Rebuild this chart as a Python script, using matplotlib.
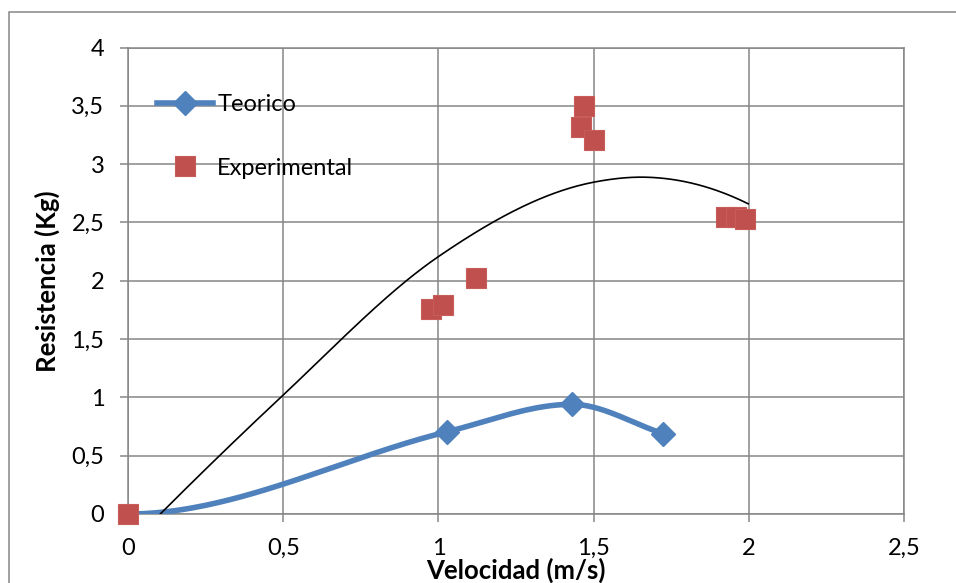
import numpy as np
import matplotlib
matplotlib.use("Agg")
import matplotlib.pyplot as plt
from matplotlib.patches import Rectangle
from matplotlib.ticker import FuncFormatter

# values
teo_x = [0, 1.028, 1.432, 1.723]
teo_y = [0, 0.705, 0.94, 0.69]

exp_x = [0, 0.975, 1.015, 1.122, 1.459, 1.470, 1.501, 1.928, 1.959, 1.988]
exp_y = [0, 1.76, 1.79, 2.02, 3.32, 3.50, 3.21, 2.55, 2.55, 2.53]

# black fit curve
fit_x = [0.104, 0.492, 1.0, 1.5, 1.666, 1.998]
fit_y = [0.0, 1.0, 2.207, 2.845, 2.888, 2.66]

x_ticks = [0, 0.5, 1, 1.5, 2, 2.5]
y_ticks = [0, 0.5, 1, 1.5, 2, 2.5, 3, 3.5, 4]

BLUE = "#4F81BD"
RED = "#C0504D"
GRID = "#868686"

plt.rcParams["font.family"] = ["Lato", "DejaVu Sans"]


def smooth(xs, ys, mode="central", flat_start=False, n=80):
    # hermite spline through the points (excel style smoothed line)
    xs = np.asarray(xs, float)
    ys = np.asarray(ys, float)
    h = np.diff(xs)
    d = np.diff(ys) / h
    m = np.zeros(len(xs))
    if mode == "central":
        m[1:-1] = (ys[2:] - ys[:-2]) / (xs[2:] - xs[:-2])
        m[0] = d[0]
        m[-1] = d[-1]
    else:
        # three point slopes for uneven spacing
        m[1:-1] = (h[1:] * d[:-1] + h[:-1] * d[1:]) / (h[:-1] + h[1:])
        m[0] = ((2 * h[0] + h[1]) * d[0] - h[0] * d[1]) / (h[0] + h[1])
        m[-1] = ((2 * h[-1] + h[-2]) * d[-1] - h[-1] * d[-2]) / (h[-1] + h[-2])
    if flat_start:
        m[0] = 0.0
    px, py = [], []
    t = np.linspace(0, 1, n)
    h00 = 2 * t**3 - 3 * t**2 + 1
    h10 = t**3 - 2 * t**2 + t
    h01 = -2 * t**3 + 3 * t**2
    h11 = t**3 - t**2
    for i in range(len(xs) - 1):
        px.extend(xs[i] + t * h[i])
        py.extend(h00 * ys[i] + h10 * h[i] * m[i] + h01 * ys[i + 1] + h11 * h[i] * m[i + 1])
    return px, py


fig = plt.figure(figsize=(9.56, 5.83), dpi=100)
ax = fig.add_axes([128 / 956, 1 - 514 / 583, 776 / 956, 466.5 / 583])

# chart area border
fig.patches.append(Rectangle((9 / 956, -0.05), 1.0, 1 - 12 / 583 + 0.05,
                             transform=fig.transFigure, fill=False,
                             edgecolor=GRID, linewidth=1.1))

sx, sy = smooth(teo_x, teo_y, flat_start=True)
ax.plot(sx, sy, color=BLUE, linewidth=4, solid_capstyle="round", zorder=3)
ax.plot(teo_x[1:], teo_y[1:], linestyle="none", marker="D", markersize=12,
        color=BLUE, zorder=4)
teo_handle, = ax.plot([], [], color=BLUE, linewidth=4, marker="D", markersize=12)

exp_handle, = ax.plot(exp_x, exp_y, linestyle="none", marker="s", markersize=14,
                      color=RED, markeredgecolor="#C75C59", markeredgewidth=0.8,
                      clip_on=False, zorder=5)

fx, fy = smooth(fit_x, fit_y, mode="uneven")
ax.plot(fx, fy, color="black", linewidth=1.2, zorder=6)

ax.set_xlim(0, 2.5)
ax.set_ylim(0, 4)
ax.set_xticks(x_ticks)
ax.set_yticks(y_ticks)
fmt = FuncFormatter(lambda v, p: f"{v:g}".replace(".", ","))
ax.xaxis.set_major_formatter(fmt)
ax.yaxis.set_major_formatter(fmt)
ax.grid(True, color=GRID, linewidth=1.1)
ax.set_axisbelow(True)
for s in ax.spines.values():
    s.set_color(GRID)
    s.set_linewidth(1.1)
ax.tick_params(axis="both", direction="out", length=6, width=1.1, color=GRID,
               labelsize=17, labelcolor="black")
ax.tick_params(axis="y", pad=11)
ax.tick_params(axis="x", pad=11)

ax.set_xlabel("Velocidad (m/s)", fontsize=18.5, fontweight="bold", labelpad=-1)
ax.set_ylabel("Resistencia (Kg)", fontsize=18.5, fontweight="bold", labelpad=8)

ax.legend([teo_handle, exp_handle], ["Teorico", "Experimental"],
          loc="upper left", bbox_to_anchor=(0.037, 0.9), frameon=False,
          fontsize=17, handlelength=2.37, handletextpad=0.19, labelspacing=1.8,
          borderpad=0, borderaxespad=0, numpoints=1)

fig.savefig("out.png", dpi=100)
